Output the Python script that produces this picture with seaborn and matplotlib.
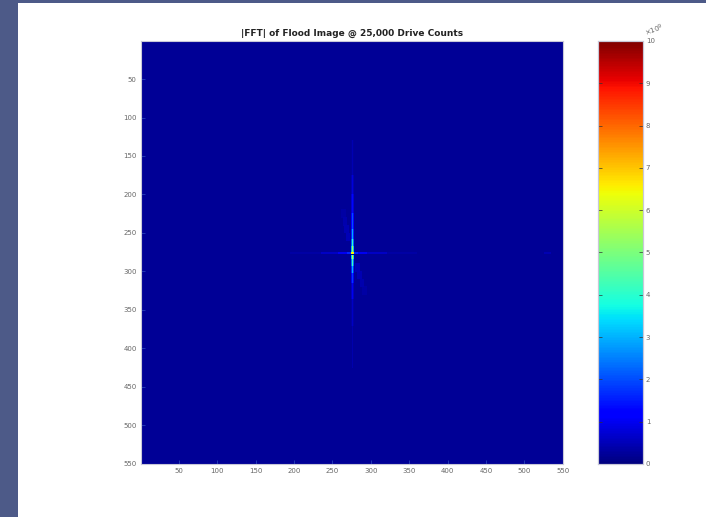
import numpy as np
import matplotlib
matplotlib.use("Agg")
import matplotlib.pyplot as plt
import seaborn as sns
from matplotlib.patches import Rectangle

# ---------------- data (values in units of 1e9) ----------------
image_size = 550
center_row = 276          # 1-based image row of the DC peak
center_col = 276          # 1-based image column of the DC peak
background_level = 0.2
peak_value = 9.8

# vertical streak segments: (row_start, row_end, value), 1-based rows
vertical_segments = [
    (130, 175, 0.45), (175, 200, 0.8), (200, 225, 1.3), (225, 245, 2.0),
    (245, 258, 2.9), (258, 268, 4.0), (268, 274, 5.5),
    (279, 284, 5.8), (284, 292, 4.2), (292, 302, 3.0), (302, 315, 1.8),
    (315, 335, 1.0), (335, 370, 0.6), (370, 425, 0.4),
]
# horizontal streak segments: (col_start, col_end, value), 1-based columns
horizontal_segments = [
    (1, 195, 0.4), (195, 235, 0.7), (235, 258, 1.2), (258, 270, 2.0),
    (270, 275, 3.2), (278, 283, 3.2), (283, 295, 2.0), (295, 320, 1.2),
    (320, 360, 0.7), (360, 550, 0.4), (526, 535, 0.9),
]
# faint diagonal streak: (row, col_start, col_end, value)
diagonal_cells = [
    (225, 262, 267, 0.35), (235, 264, 269, 0.4), (245, 266, 271, 0.45),
    (255, 268, 273, 0.5),
    (295, 280, 285, 0.5), (305, 283, 288, 0.45), (315, 286, 291, 0.4),
    (325, 289, 294, 0.35),
]

tick_values = [50, 100, 150, 200, 250, 300, 350, 400, 450, 500, 550]
cbar_ticks = [0, 1, 2, 3, 4, 5, 6, 7, 8, 9, 10]

# ---------------- build the matrix from the arrays ----------------
Z = np.full((image_size, image_size), background_level)
c0 = center_col - 1
r0 = center_row - 1
for rs, re, v in vertical_segments:
    Z[rs - 1:re, c0] = np.maximum(Z[rs - 1:re, c0], v)
    for dc in (-1, 1):
        Z[rs - 1:re, c0 + dc] = np.maximum(Z[rs - 1:re, c0 + dc], v * 0.55)
for cs, ce, v in horizontal_segments:
    Z[r0, cs - 1:ce] = np.maximum(Z[r0, cs - 1:ce], v)
    for dr in (-1, 1):
        Z[r0 + dr, cs - 1:ce] = np.maximum(Z[r0 + dr, cs - 1:ce], v * 0.5)
for r, cs, ce, v in diagonal_cells:
    Z[r - 6:r + 5, cs - 1:ce] = np.maximum(Z[r - 6:r + 5, cs - 1:ce], v)
Z[r0 - 1:r0 + 2, c0 - 1:c0 + 2] = np.maximum(Z[r0 - 1:r0 + 2, c0 - 1:c0 + 2], 6.5)
Z[r0, c0] = peak_value

# ---------------- figure ----------------
W, H = 706, 517
fig = plt.figure(figsize=(W / 100, H / 100), dpi=100)
fig.patch.set_facecolor("#4d5a88")
fig.patches.append(Rectangle((18 / W, 0), 1 - 18 / W, 1 - 3 / H,
                             transform=fig.transFigure, facecolor="white",
                             edgecolor="none", zorder=-10))

ax = fig.add_axes([141 / W, 1 - 464 / H, (563 - 141) / W, (464 - 41) / H])
cax = fig.add_axes([598 / W, 1 - 464 / H, (643 - 598) / W, (464 - 41) / H])

sns.heatmap(Z, ax=ax, cmap="jet", vmin=0, vmax=10, cbar=True, cbar_ax=cax,
            xticklabels=False, yticklabels=False, rasterized=True)

ax.set_xticks([t - 0.5 for t in tick_values])
ax.set_xticklabels([str(t) for t in tick_values])
ax.set_yticks([t - 0.5 for t in tick_values])
ax.set_yticklabels([str(t) for t in tick_values], rotation=0)
ax.tick_params(direction="in", length=3, width=0.5, colors="#3050c0",
               labelcolor="#666666", labelsize=5, pad=3)
for s in ax.spines.values():
    s.set_visible(True)
    s.set_color("#c8c8d8")
    s.set_linewidth(0.8)
ax.set_title("|FFT| of Flood Image @ 25,000 Drive Counts", fontsize=6.5,
             fontweight="bold", color="#222222", pad=4)

cax.set_yticks(cbar_ticks)
cax.set_yticklabels([str(t) for t in cbar_ticks])
cax.tick_params(direction="in", length=3, width=0.5, colors="#333333",
                labelcolor="#666666", labelsize=5, pad=2, left=True, right=True)
for s in cax.spines.values():
    s.set_visible(True)
    s.set_color("#c8c8d8")
    s.set_linewidth(0.8)
cax.text(1.0, 1.005, r"$\times10^{9}$", transform=cax.transAxes,
         fontsize=5, color="#666666", ha="left", va="bottom", rotation=20)

fig.savefig("out.png", dpi=100, facecolor=fig.get_facecolor())
